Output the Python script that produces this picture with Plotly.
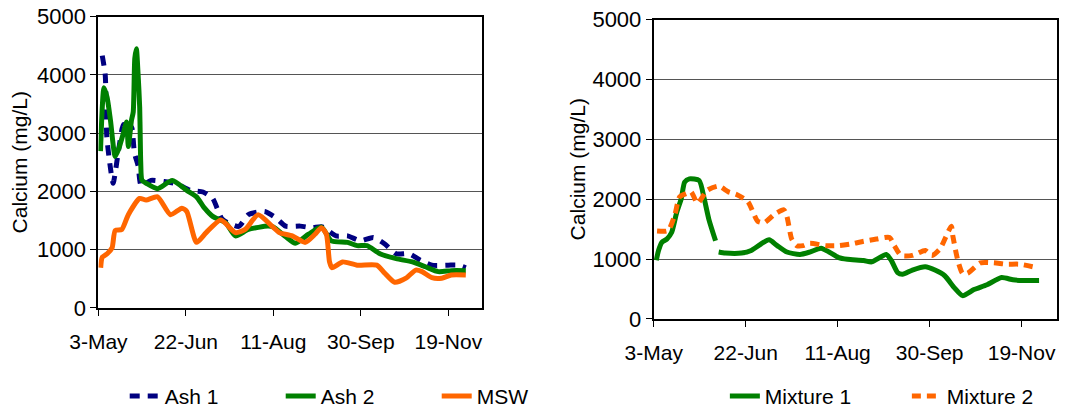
import pandas as pd
import plotly.graph_objects as go
from plotly.subplots import make_subplots

BASE = pd.Timestamp("2005-05-03")

# ---- Left chart data (day offset from 3-May, calcium mg/L) ----
ash1_days = [2.2, 3.9, 4.8, 6.7, 8.4, 11.5, 14.3, 17, 19, 20.6, 22.7, 24.5, 30, 37.5, 44.9,
             52.3, 59.8, 65.3, 70.9, 80.2, 85.7, 95, 101.5, 107, 115.4, 122, 128, 135.9,
             142.4, 149.8, 157.2, 163.7, 170.2, 177.6, 184.1, 190.6, 199.9, 205.5, 210]
ash1_vals = [4330, 4000, 2940, 2440, 2140, 2700, 3150, 3000, 3100, 2660, 2440, 2100, 2190, 2170, 2130,
             2020, 1990, 1880, 1520, 1400, 1600, 1655, 1544, 1404, 1404, 1377, 1390, 1236,
             1236, 1152, 1209, 1097, 930, 930, 817, 734, 734, 734, 690]

ash2_days = [1.2, 3.2, 5, 6.9, 9.6, 11.5, 14.3, 16.1, 17.1, 18.9, 19.9, 20.8, 21.7, 22.7, 23.6,
             23.9, 24.2, 24.9, 27.3, 33.8, 42.2, 50.5, 56.1, 60.7, 65.3, 72.8, 78.3, 85.7, 96.9,
             100, 107.1, 112.6, 120.1, 127.5, 133.1, 142.4, 147.9, 153.5, 160.9, 170.2, 179.5,
             186.9, 194.3, 201.7, 210]
ash2_vals = [2690, 3780, 3610, 3220, 2600, 2720, 3000, 3190, 2770, 3220, 3360, 4280, 4450, 4000, 3440,
             2940, 2490, 2190, 2140, 2047, 2186, 2018, 1906, 1712, 1571, 1460, 1236, 1348, 1404,
             1390, 1220, 1110, 1265, 1387, 1152, 1125, 1069, 1069, 930, 846, 790,
             707, 623, 640, 640]

msw_days = [1.3, 2.2, 5, 7.8, 9.6, 13.4, 17.1, 23.6, 27.3, 33.8, 41.2, 47.7, 50.5, 56.1, 61.6,
            70, 78.3, 83.9, 91.3, 99.7, 103.4, 110.8, 118.2, 123.8, 127.5, 130.3, 132.1, 133.5,
            139.6, 147.9, 159.1, 163.7, 169.3, 175.8, 181.4, 185, 190.6, 196.2, 201.7, 210]
msw_vals = [690, 870, 930, 1030, 1330, 1348, 1600, 1879, 1851, 1906, 1600, 1712, 1655, 1125, 1293,
            1510, 1293, 1348, 1600, 1390, 1293, 1236, 1125, 1265, 1377, 1265, 790, 690,
            790, 734, 734, 595, 440, 511, 650, 623, 520, 511, 566, 566]

# ---- Right chart data ----
mix1_days = [1.4, 2.6, 4.4, 7.1, 9.7, 12.4, 15, 16.8, 19.4, 24.7, 27.4, 30, 33.6, None,
             35.3, 38.9, 47.7, 53, 58.3, 62.7, 67.1, 72.4, 79.5, 84.8, 91, 95.3, 100.6, 105.3,
             114.1, 118.5, 126.4, 129.1, 132.6, 135.3, 140.6, 147.6, 152.9, 158.2, 163.5, 167.9,
             174.1, 181.2, 189.1, 195.3, 200.6, 209.5]
mix1_vals = [980, 1142, 1279, 1333, 1442, 1768, 2013, 2283, 2339, 2311, 2013, 1659, 1305, None,
             1116, 1099, 1099, 1142, 1251, 1320, 1223, 1116, 1077, 1116, 1180, 1116, 1023, 995,
             975, 952, 1075, 979, 773, 745, 815, 871, 815, 720, 517, 388,
             489, 571, 690, 652, 640, 640]

mix2_days = [1.8, 7.1, 8.8, 11.5, 14.1, 17.7, 20.3, 23.8, 29.1, 35.3, 40.6, 45, 51.2, 56.5, 60.1,
             65.4, 70.7, 72.4, 75, 77.7, 81.3, 84.8, 93.6, 100.6, 107, 114.1, 121.1, 128.2, 130.8,
             134.4, 140.6, 147.6, 151.2, 155.6, 161.8, 162.6, 165.3, 167.9, 170.6, 177.7, 184.7,
             191.8, 198.8, 206]
mix2_vals = [1468, 1468, 1523, 1740, 2039, 2094, 2121, 1931, 2148, 2218, 2121, 2078, 1957, 1631, 1605,
             1740, 1822, 1713, 1333, 1223, 1223, 1262, 1223, 1223, 1251, 1295, 1333, 1360, 1223,
             1060, 1060, 1142, 1060, 1169, 1549, 1386, 979, 762, 762, 936, 936,
             913, 913, 871]

NAVY = "#000080"
GREEN = "#008000"
ORANGE = "#FF6600"
FONT = "Liberation Sans, Arial, sans-serif"


def to_dates(days):
    return [BASE + pd.Timedelta(days=d) if d is not None else None for d in days]


fig = make_subplots(rows=1, cols=2)

series = [
    ("Ash 1", ash1_days, ash1_vals, NAVY, "10px,8px", 1, "legend"),
    ("Ash 2", ash2_days, ash2_vals, GREEN, "solid", 1, "legend"),
    ("MSW", msw_days, msw_vals, ORANGE, "solid", 1, "legend"),
    ("Mixture 1", mix1_days, mix1_vals, GREEN, "solid", 2, "legend2"),
    ("Mixture 2", mix2_days, mix2_vals, ORANGE, "9px,6px", 2, "legend2"),
]
for name, d, v, col, dash, c, lg in series:
    fig.add_trace(
        go.Scatter(x=to_dates(d), y=v, name=name, mode="lines",
                   line=dict(color=col, width=5, dash=dash, shape="spline", smoothing=0.6),
                   legend=lg),
        row=1, col=c)

common_x = dict(type="date", tick0=BASE, dtick=50 * 86400000, tickformat="%-d-%b",
                ticks="outside", ticklen=6, tickcolor="black", showline=True, linecolor="black",
                linewidth=2, mirror=True, showgrid=False, zeroline=False, automargin=False,
                ticklabelstandoff=8, ticklabeloverflow="allow",
                tickfont=dict(family=FONT, size=21, color="black"))
common_y = dict(range=[0, 5000], dtick=1000, ticks="outside", ticklen=6, tickcolor="black",
                showline=True, linecolor="black", linewidth=2, mirror=True, showgrid=True,
                gridcolor="#555555", gridwidth=1, zeroline=False, automargin=False,
                ticklabeloverflow="allow",
                tickfont=dict(family=FONT, size=22, color="black"))

W, H = 1089, 417


def px(xw):
    return xw / W


def py(yw):
    return (H - yw) / H


fig.update_xaxes(**common_x)
fig.update_yaxes(**common_y)
fig.update_layout(
    xaxis=dict(domain=[px(101), px(495)],
               range=[BASE, BASE + pd.Timedelta(days=219.4)]),
    xaxis2=dict(domain=[px(671), px(1085)],
                range=[BASE, BASE + pd.Timedelta(days=219.3)]),
    yaxis=dict(domain=[py(315.5), py(17)],
               title=dict(text="Calcium (mg/L)", font=dict(family=FONT, size=21, color="black"),
                          standoff=4)),
    yaxis2=dict(domain=[py(326.7), py(20)],
                title=dict(text="Calcium (mg/L)", font=dict(family=FONT, size=21, color="black"),
                           standoff=1)),
    width=W, height=H,
    margin=dict(l=0, r=0, t=0, b=0),
    paper_bgcolor="white", plot_bgcolor="white",
    font=dict(family=FONT, size=21, color="black"),
    legend=dict(orientation="h", x=px(128), xanchor="left", y=py(406), yanchor="middle",
                entrywidth=111, entrywidthmode="pixels",
                font=dict(family=FONT, size=21, color="black"), bgcolor="rgba(0,0,0,0)"),
    legend2=dict(orientation="h", x=px(744), xanchor="left", y=py(406), yanchor="middle",
                 entrywidth=137, entrywidthmode="pixels",
                 font=dict(family=FONT, size=21, color="black"), bgcolor="rgba(0,0,0,0)"),
)

# make the page exactly the figure size (no default body margin, no overflow)
PAGE_CSS = ("var s='margin:0;padding:0;overflow:hidden;width:1089px;height:417px;';"
            "document.documentElement.style.cssText=s;document.body.style.cssText=s;")

fig.write_html("out.html", post_script=PAGE_CSS, config={"displayModeBar": False})
